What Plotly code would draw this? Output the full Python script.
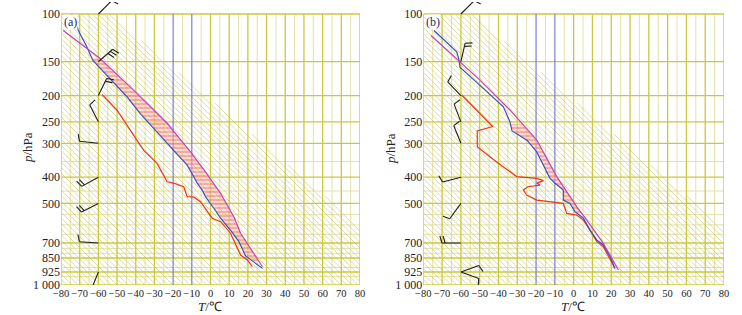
import numpy as np
import plotly.graph_objects as go

# ---------------- axis ticks ----------------
P_TICKS = [100, 150, 200, 250, 300, 400, 500, 700, 850, 925, 1000]
P_TICK_TEXT = ["100", "150", "200", "250", "300", "400", "500", "700", "850", "925", "1 000"]
P_MINOR = [350, 450, 550, 600, 650, 750, 800, 900, 950]
T_TICKS = list(range(-80, 81, 10))
T_TICK_TEXT = [("\u2212%d" % -t) if t < 0 else str(t) for t in T_TICKS]
# vertical pressure scale of the diagram: log-p down to 700 hPa, stretched levels below
SCALE_FRAC_LOW = {850: 0.9004, 925: 0.9520, 1000: 1.0}

# ---------------- panel (a) ----------------
a_env_p = [100, 115, 132, 148, 156, 173, 202, 233, 260, 292, 327, 361, 398, 421, 446, 472, 521, 567, 627, 692, 828, 869, 905]
a_env_t = [-74.3, -70.7, -66.2, -63.0, -60.0, -53.7, -44.7, -37.6, -31.3, -24.2, -17.9, -12.5, -9.0, -7.1, -4.5, -2.7, 1.8, 5.4, 10.7, 15.2, 18.8, 23.2, 27.8]
a_dew_p = [198, 226, 292, 318, 356, 416, 421, 434, 472, 473, 493, 567, 584, 644, 818, 860, 896]
a_dew_t = [-58.1, -50.1, -39.4, -35.8, -28.6, -23.2, -19.7, -14.3, -12.5, -9.0, -5.4, 0.9, 5.4, 10.7, 16.1, 19.7, 22.4]
a_par_p = [115, 146, 191, 253, 323, 376, 459, 560, 644, 703, 896]
a_par_t = [-78.8, -59.1, -41.2, -23.2, -10.7, -3.5, 5.4, 12.5, 16.1, 19.7, 27.8]
a_cape = (145, 870)
a_wind_p = [100, 150, 200, 250, 300, 400, 500, 700, 925]
a_wind_dir = [45, 49, 26, 333, 276, 241, 243, 274, 202]
a_wind_spd = [4, 12, 8, 4, 4, 8, 8, 4, 4]

# ---------------- panel (b) ----------------
b_env_p = [115, 138, 148, 157, 183, 220, 250, 270, 292, 323, 404, 421, 446, 486, 500, 536, 567, 627, 682, 718, 836, 905]
b_env_t = [-74.3, -62.2, -61.0, -60.5, -50.0, -37.4, -33.9, -32.8, -24.8, -19.6, -12.6, -9.9, -5.5, -5.5, -2.0, 0.7, 5.2, 8.7, 12.3, 15.8, 19.4, 22.0]
b_dew_p = [199, 226, 260, 270, 309, 344, 398, 404, 412, 421, 428, 434, 446, 466, 486, 500, 544, 552, 576, 627, 692, 734, 860, 905]
b_dew_t = [-59.6, -51.6, -43.1, -51.3, -51.3, -42.7, -30.3, -19.6, -16.1, -19.6, -17.9, -24.3, -26.8, -25.0, -19.6, -5.5, -3.7, 1.6, 5.2, 8.7, 12.3, 15.8, 19.4, 22.0]
b_par_p = [120, 175, 226, 292, 398, 514, 576, 703, 914]
b_par_t = [-75.9, -50.0, -33.9, -19.6, -9.0, 1.6, 7.0, 15.8, 23.8]
b_cape = (255, 545)
b_wind_p = [100, 150, 200, 250, 300, 400, 500, 700, 925, 925]
b_wind_dir = [45, 13, 316, 339, 338, 255, 216, 270, 70, 110]
b_wind_spd = [4, 8, 4, 4, 4, 4, 4, 8, 4, 4]

# ---------------- geometry / style ----------------
W, H = 742, 315
MT, MB = 2, 30
PLOT_H = H - MT - MB
BOX_H = 271.0                            # pixels from 100 hPa to 1000 hPa
TOP_PAD = 12.0                           # pixels above the 100 hPa line
PANEL_PX = {"a": (61.0, 360.0), "b": (423.3, 724.0)}

_LOGK = np.log10(np.array(P_TICKS, dtype=float))
_FRACK = np.array([SCALE_FRAC_LOW.get(p, np.log10(p) - 2.0) for p in P_TICKS])


def yv(p):
    """pressure -> diagram vertical coordinate (pixels below the 100 hPa line)"""
    return np.interp(np.log10(np.asarray(p, dtype=float)), _LOGK, _FRACK) * BOX_H


GRID_MAJOR = "#cbc83e"
GRID_MINOR = "#e4e2a6"
HATCH = "rgba(200,198,95,0.75)"
ISO_BLUE = "#7373cc"
C_ENV = "#3a4ec2"
C_DEW = "#f2321f"
C_PAR = "#c244b6"
C_BARB = "#1e1e1e"
FONT = "Liberation Serif"

fig = go.Figure()


def line_trace(xs, ys, color, width, xa, ya):
    return go.Scatter(x=xs, y=ys, mode="lines", line=dict(color=color, width=width),
                      xaxis=xa, yaxis=ya, hoverinfo="skip", showlegend=False)


def segs(pairs):
    xs, ys = [], []
    for (x0, y0), (x1, y1) in pairs:
        xs += [x0, x1, None]
        ys += [y0, y1, None]
    return xs, ys


def add_panel(key, xa, ya, env_p, env_t, dew_p, dew_t, par_p, par_t, cape, wp, wd, ws):
    x0px, x1px = PANEL_PX[key]
    kx = (x1px - x0px) / 160.0          # px per degC
    Y100, Y1000 = float(yv(100)), float(yv(1000))

    def to_data(relx, rely):            # rel px from top-left of the 100..1000 box
        return -80 + relx / kx, rely

    # minor grid
    pairs = [((t, Y100), (t, Y1000)) for t in range(-75, 80, 10)]
    pairs += [((-80, yv(p)), (80, yv(p))) for p in P_MINOR]
    fig.add_trace(line_trace(*segs(pairs), GRID_MINOR, 1, xa, ya))
    # hatch lines (upper-left triangle)
    Wp, Hp = x1px - x0px, BOX_H
    b0, sb, step = 49.0, 1.18, 5.6
    pairs = []
    c = -Hp
    while c < Wp:
        ts = max(0.0, -c, (c - b0) / (sb - 1))
        te = min(Hp, Wp - c)
        if ts < te:
            pairs.append((to_data(c + ts, ts), to_data(c + te, te)))
        c += step
    fig.add_trace(line_trace(*segs(pairs), HATCH, 0.8, xa, ya))
    # major grid
    pairs = [((t, Y100), (t, Y1000)) for t in T_TICKS if t not in (-20, -10)]
    pairs += [((-80, yv(p)), (80, yv(p))) for p in P_TICKS]
    fig.add_trace(line_trace(*segs(pairs), GRID_MAJOR, 1.3, xa, ya))
    # blue isotherms
    fig.add_trace(line_trace(*segs([((-20, Y100), (-20, Y1000)), ((-10, Y100), (-10, Y1000))]),
                             ISO_BLUE, 1.1, xa, ya))
    # CAPE area
    yy = np.linspace(yv(cape[0]), yv(cape[1]), 200)
    te_ = np.interp(yy, yv(env_p), env_t)
    tp_ = np.maximum(np.interp(yy, yv(par_p), par_t), te_)
    fig.add_trace(go.Scatter(x=np.concatenate([tp_, te_[::-1]]), y=np.concatenate([yy, yy[::-1]]),
                             mode="lines", fill="toself", line=dict(width=0, color="rgba(0,0,0,0)"),
                             fillcolor="rgba(255,175,170,0.5)",
                             fillpattern=dict(shape="-", fgcolor="#ee3b30", bgcolor="rgba(255,190,185,0.5)",
                                              size=4, solidity=0.3),
                             xaxis=xa, yaxis=ya, hoverinfo="skip", showlegend=False))
    # curves
    fig.add_trace(line_trace(dew_t, yv(dew_p), C_DEW, 1.2, xa, ya))
    fig.add_trace(line_trace(env_t, yv(env_p), C_ENV, 1.2, xa, ya))
    fig.add_trace(line_trace(par_t, yv(par_p), C_PAR, 1.2, xa, ya))
    # wind barbs at -60 degC
    pairs = []
    L = 19.0
    for p, d, s in zip(wp, wd, ws):
        ux, uy = np.sin(np.radians(d)), np.cos(np.radians(d))
        bx, by = 20 * kx, float(yv(p))                  # rel px (y down)
        tx, ty = bx + L * ux, by - L * uy
        pairs.append((to_data(bx, by), to_data(tx, ty)))
        px_, py_ = uy, -ux                               # clockwise normal (y up)
        for i in range(int(s // 4)):
            sx, sy = tx - i * 3.2 * ux, ty + i * 3.2 * uy
            ex, ey = sx + 7 * px_ + 2.0 * ux, sy - (7 * py_ + 2.0 * uy)
            pairs.append((to_data(sx, sy), to_data(ex, ey)))
    fig.add_trace(line_trace(*segs(pairs), C_BARB, 1.1, xa, ya))


add_panel("a", "x", "y", a_env_p, a_env_t, a_dew_p, a_dew_t, a_par_p, a_par_t, a_cape,
          a_wind_p, a_wind_dir, a_wind_spd)
add_panel("b", "x2", "y2", b_env_p, b_env_t, b_dew_p, b_dew_t, b_par_p, b_par_t, b_cape,
          b_wind_p, b_wind_dir, b_wind_spd)

xcommon = dict(range=[-80, 80], tickmode="array", tickvals=T_TICKS, ticktext=T_TICK_TEXT,
               showgrid=False, zeroline=False, showline=False, ticks="", tickangle=0,
               automargin=False, tickfont=dict(family=FONT, size=10.5, color="#222"))
ycommon = dict(type="linear", range=[BOX_H, -TOP_PAD], tickmode="array",
               tickvals=list(yv(P_TICKS)), ticktext=P_TICK_TEXT,
               showgrid=False, zeroline=False, showline=False, ticks="", domain=[0, 1],
               automargin=False, tickfont=dict(family=FONT, size=12, color="#222"))


def pxx(px):
    return px / W


def pxy(py):
    return (H - MB - py) / PLOT_H


fig.update_layout(
    width=W, height=H, margin=dict(l=0, r=0, t=MT, b=MB, autoexpand=False),
    paper_bgcolor="white", plot_bgcolor="white", showlegend=False,
    xaxis=dict(domain=[PANEL_PX["a"][0] / W, PANEL_PX["a"][1] / W], anchor="y", **xcommon),
    yaxis=dict(anchor="x", **ycommon),
    xaxis2=dict(domain=[PANEL_PX["b"][0] / W, PANEL_PX["b"][1] / W], anchor="y2", **xcommon),
    yaxis2=dict(anchor="x2", **ycommon),
)

ann = []
for lab, cx in (("(a)", 70), ("(b)", 433)):
    ann.append(dict(x=pxx(cx), y=pxy(22), xref="paper", yref="paper", text=lab, showarrow=False,
                    xanchor="center", yanchor="middle",
                    font=dict(family=FONT, size=12, color="#1c2c6c"), bgcolor="white", borderpad=0))
for cx in (27, 390):
    ann.append(dict(x=pxx(cx), y=pxy(148), xref="paper", yref="paper", text="<i>p</i>/hPa",
                    textangle=-90, showarrow=False, xanchor="center", yanchor="middle",
                    font=dict(family=FONT, size=13, color="#222")))
for cx in (210, 573):
    ann.append(dict(x=pxx(cx), y=pxy(306), xref="paper", yref="paper", text="<i>T</i>/\u2103",
                    showarrow=False, xanchor="center", yanchor="middle",
                    font=dict(family=FONT, size=13, color="#222")))
fig.update_layout(annotations=ann)

fig.write_html("out.html", config={"displayModeBar": False},
               post_script="document.body.style.margin='0';")
